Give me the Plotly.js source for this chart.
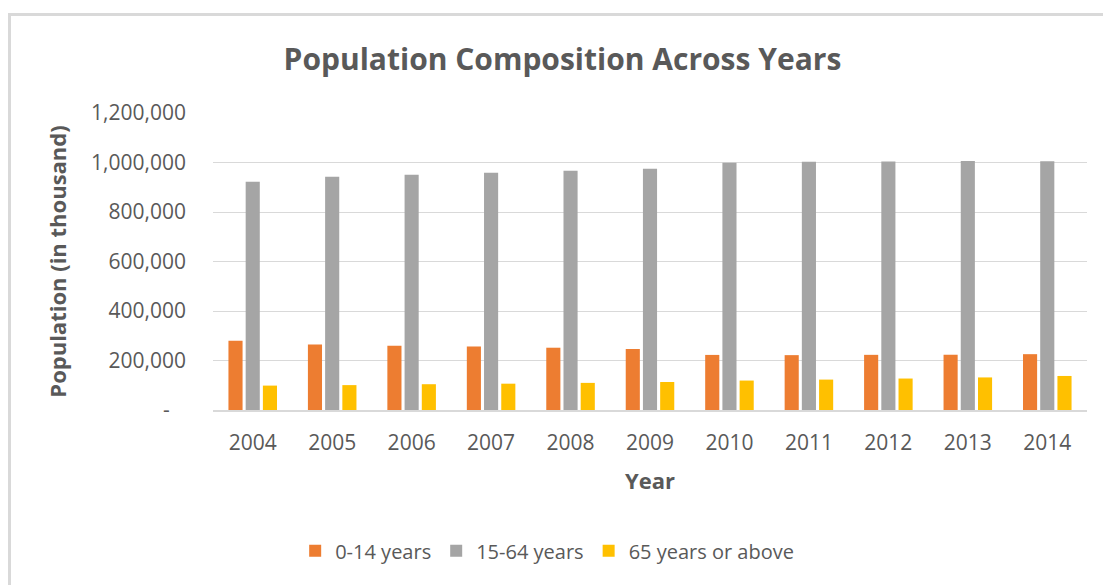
<!DOCTYPE html>
<html>
<head>
<meta charset="utf-8">
<script src="https://cdn.plot.ly/plotly-3.0.1.min.js"></script>
<style>
  html, body { margin: 0; padding: 0; background: #ffffff; overflow: hidden; }
  #chart {
    position: absolute; left: 8px; top: 13px;
    width: 1092px; height: 569px;
    border-top: 3px solid #d9d9d9; border-left: 3px solid #d9d9d9;
  }
</style>
</head>
<body>
<div id="chart"></div>
<script>
// Population by age group, in thousands
const years = ['2004', '2005', '2006', '2007', '2008', '2009', '2010', '2011', '2012', '2013', '2014'];
const age0to14 = [279470, 265040, 259610, 256600, 251660, 246590, 222590, 221640, 222870, 223290, 225580];
const age15to64 = [921840, 941970, 950680, 958330, 966800, 974840, 999380, 1002830, 1004030, 1005820, 1004690];
const age65plus = [98570, 100550, 104190, 106360, 109560, 113070, 118940, 122880, 127140, 131610, 137550];
const seriesNames = ['0-14 years', '15-64 years', '65 years or above'];
const yTickVals = [0, 200000, 400000, 600000, 800000, 1000000, 1200000];
const yTickText = ['-\u00a0\u00a0\u00a0', '200,000', '400,000', '600,000', '800,000', '1,000,000', '1,200,000'];

const FONT = '"Open Sans", Lato, sans-serif';
const TEXT = '#595959';
const colors = ['#ED7D31', '#A5A5A5', '#FFC000'];

const traces = [age0to14, age15to64, age65plus].map((vals, i) => ({
  type: 'bar',
  name: seriesNames[i],
  x: years,
  y: vals,
  marker: { color: colors[i] },
  hoverinfo: 'x+y+name'
}));

const layout = {
  width: 1092,
  height: 569,
  paper_bgcolor: '#ffffff',
  plot_bgcolor: '#ffffff',
  font: { family: FONT, color: TEXT, size: 21 },
  margin: { l: 202, r: 16, t: 97, b: 175 },
  barmode: 'group',
  bargap: 0.35,
  bargroupgap: 0.18,
  title: {
    text: 'Population Composition Across Years',
    font: { family: FONT, size: 30, color: TEXT, weight: 'bold' },
    x: 0.505, xref: 'container', xanchor: 'center',
    y: 0.923, yref: 'container', yanchor: 'middle'
  },
  xaxis: {
    type: 'category',
    showgrid: false,
    showline: true,
    linecolor: '#d9d9d9',
    linewidth: 2,
    ticks: '',
    ticklabelstandoff: 13,
    tickfont: { family: FONT, size: 21, color: TEXT },
    title: {
      text: 'Year',
      font: { family: FONT, size: 22, color: TEXT, weight: 'bold' },
      standoff: 18
    },
    automargin: true
  },
  yaxis: {
    range: [0, 1200000],
    tickvals: yTickVals,
    ticktext: yTickText,
    showgrid: true,
    gridcolor: '#d9d9d9',
    gridwidth: 1,
    zeroline: false,
    showline: false,
    ticks: '',
    ticklabelstandoff: 26,
    tickfont: { family: FONT, size: 21, color: TEXT },
    title: {
      text: 'Population (in thousand)',
      font: { family: FONT, size: 22, color: TEXT, weight: 'bold' },
      standoff: 18
    },
    automargin: true
  },
  legend: {
    orientation: 'h',
    x: 0.491, xanchor: 'center',
    xref: 'container',
    y: 0.06, yref: 'container', yanchor: 'middle',
    font: { family: FONT, size: 20, color: TEXT },
    itemwidth: 30,
    traceorder: 'normal'
  },
  showlegend: true
};

Plotly.newPlot('chart', traces, layout, { displayModeBar: false, staticPlot: true });
</script>
</body>
</html>
